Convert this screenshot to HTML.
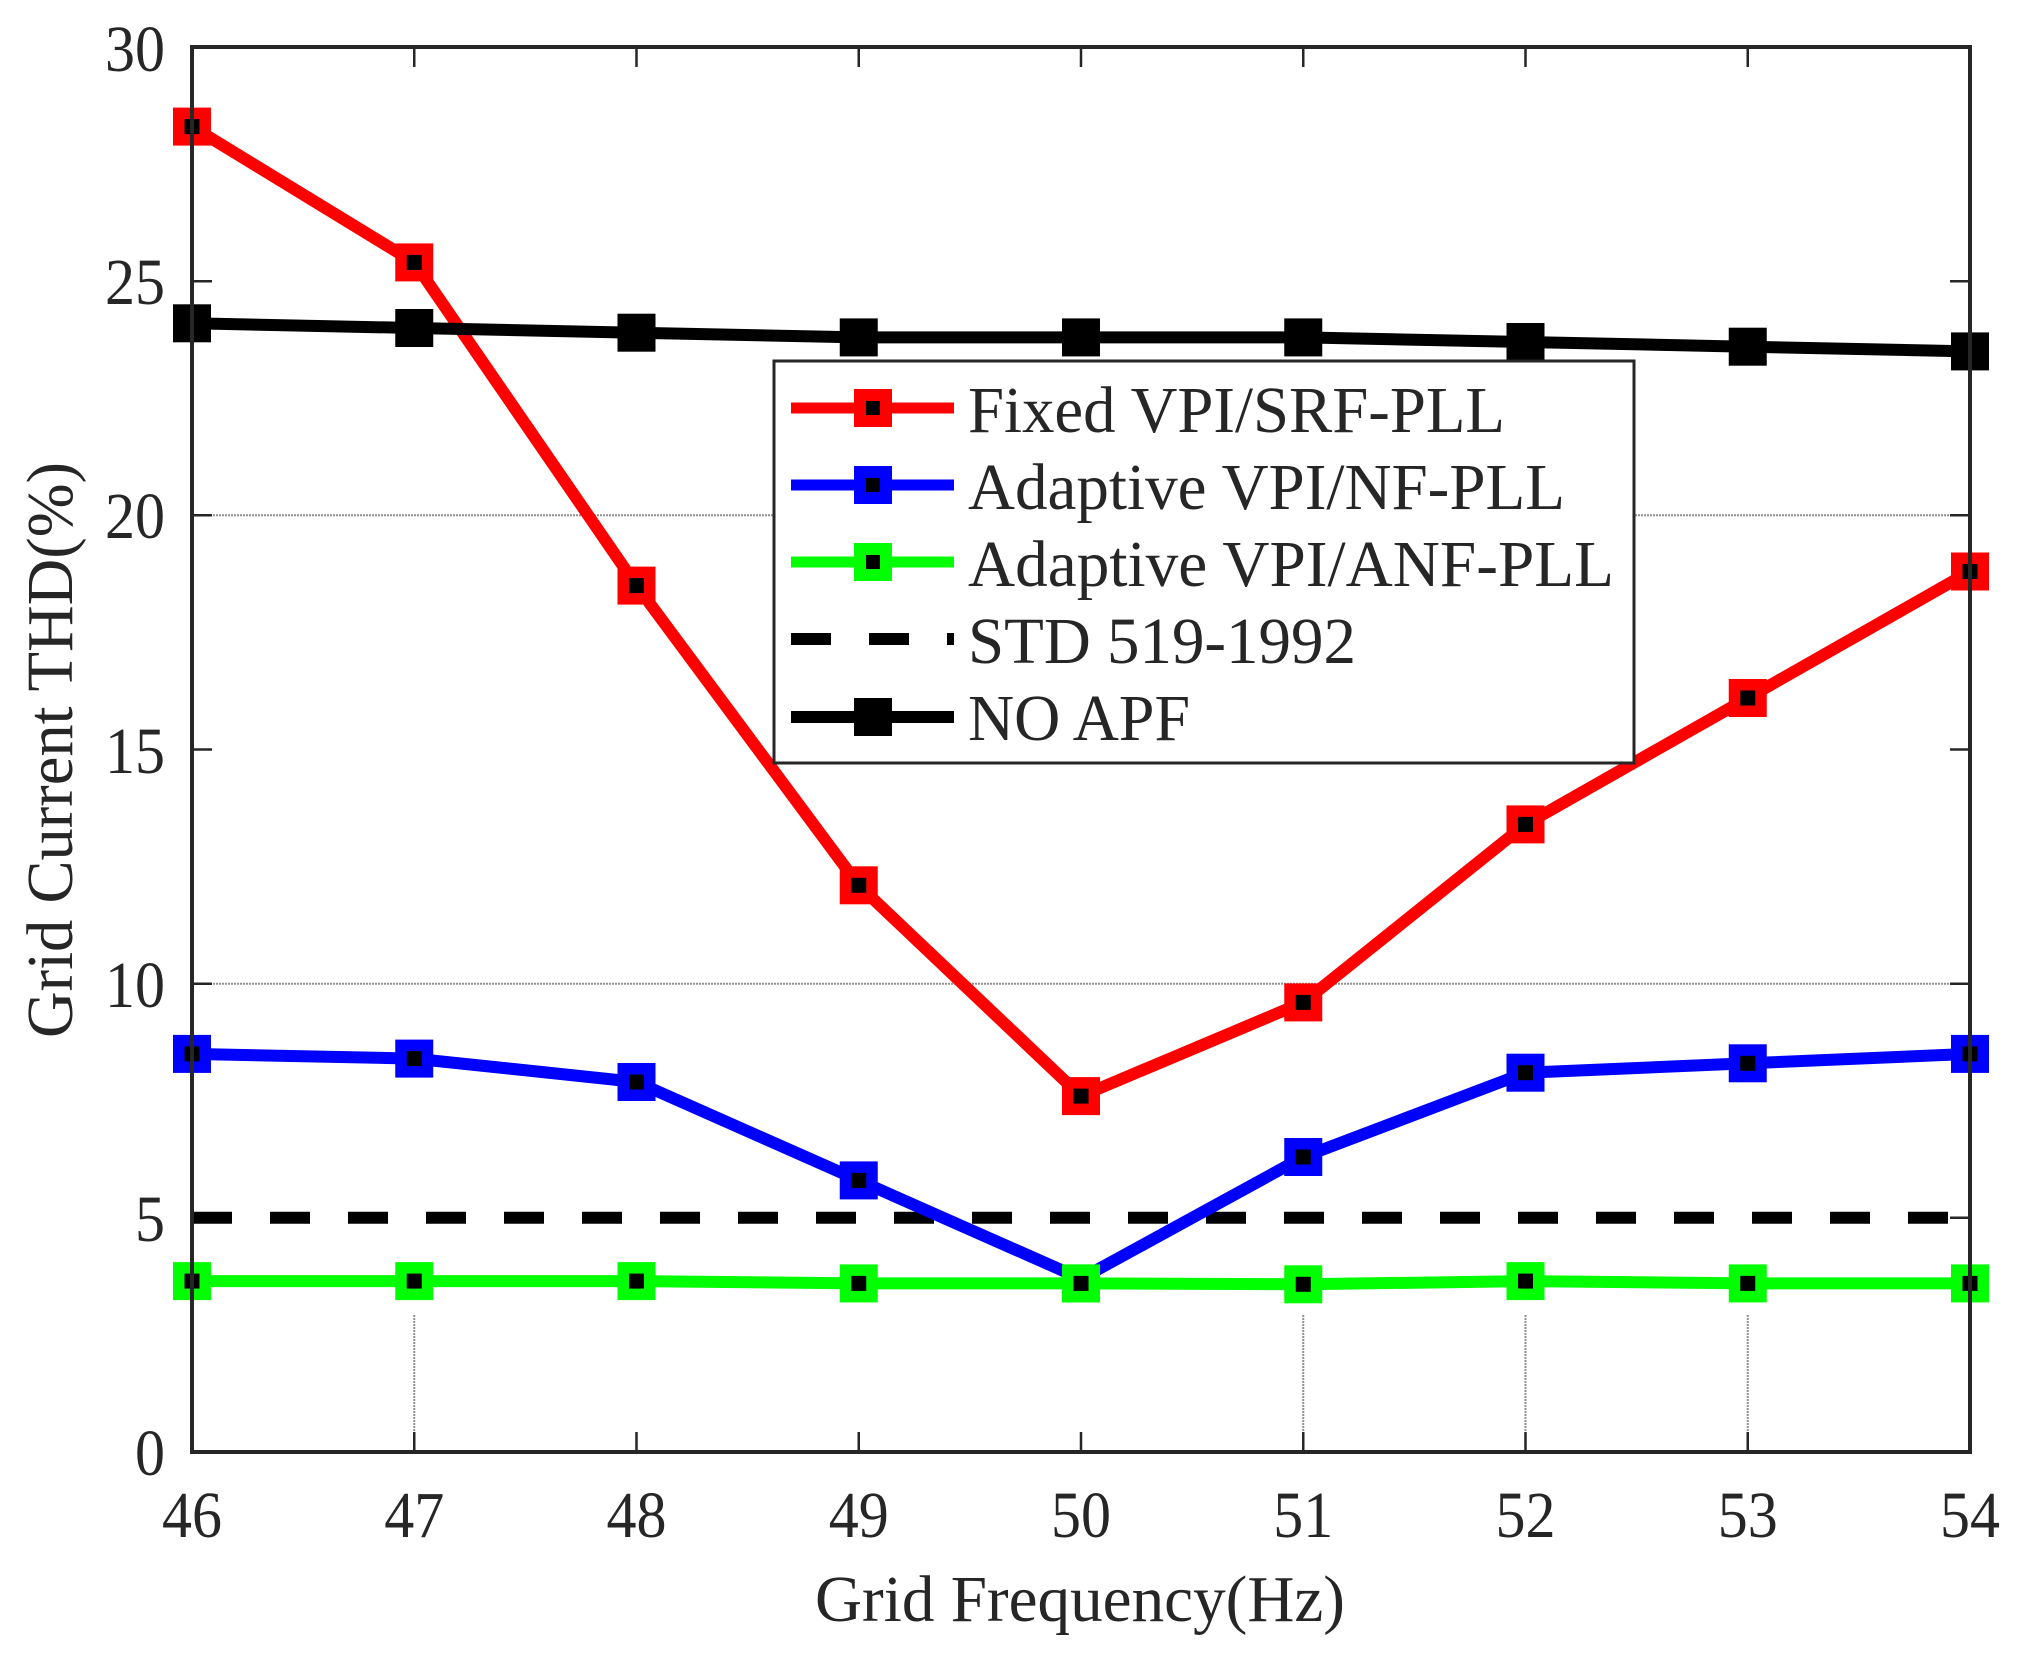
<!DOCTYPE html>
<html><head><meta charset="utf-8"><style>html,body{margin:0;padding:0;background:#fff}svg{display:block}text{font-family:"Liberation Serif",serif;fill:#262626}</style></head>
<body>
<svg width="2028" height="1658" viewBox="0 0 2028 1658" xmlns="http://www.w3.org/2000/svg">
<rect width="2028" height="1658" fill="#fff"/>
<g stroke="#909090" stroke-width="2" stroke-dasharray="2,1">
<line x1="192" y1="515.3" x2="1970" y2="515.3"/>
<line x1="192" y1="983.7" x2="1970" y2="983.7"/>
<line x1="414.25" y1="1315" x2="414.25" y2="1432"/>
<line x1="1303.25" y1="1315" x2="1303.25" y2="1432"/>
<line x1="1525.5" y1="1315" x2="1525.5" y2="1432"/>
<line x1="1747.75" y1="1315" x2="1747.75" y2="1432"/>
</g>
<g stroke="#262626" stroke-width="2.5">
<path d="M192 1217.8h20M192 983.7h20M192 749.5h20M192 515.3h20M192 281.2h20M1970 1217.8h-20M1970 983.7h-20M1970 749.5h-20M1970 515.3h-20M1970 281.2h-20"/>
<path d="M414.25 1452v-20M636.5 1452v-20M858.75 1452v-20M1081 1452v-20M1303.25 1452v-20M1525.5 1452v-20M1747.75 1452v-20M414.25 47v20M636.5 47v20M858.75 47v20M1081 47v20M1303.25 47v20M1525.5 47v20M1747.75 47v20"/>
</g>
<line x1="192" y1="1217.8" x2="1970" y2="1217.8" stroke="#000" stroke-width="12" stroke-dasharray="40,38"/>
<polyline fill="none" stroke="#00ff00" stroke-width="12" points="192,1281.1 414.25,1281.1 636.5,1281.1 858.75,1283.4 1081,1283.4 1303.25,1284.3 1525.5,1281.1 1747.75,1283.4 1970,1283.4"/>
<g fill="#00ff00">
<rect x="173" y="1262.1" width="38" height="38"/><rect x="395.25" y="1262.1" width="38" height="38"/><rect x="617.5" y="1262.1" width="38" height="38"/><rect x="839.75" y="1264.4" width="38" height="38"/><rect x="1062" y="1264.4" width="38" height="38"/><rect x="1284.25" y="1265.3" width="38" height="38"/><rect x="1506.5" y="1262.1" width="38" height="38"/><rect x="1728.75" y="1264.4" width="38" height="38"/><rect x="1951" y="1264.4" width="38" height="38"/>
</g>
<polyline fill="none" stroke="#0000ff" stroke-width="12" points="192,1053.9 414.25,1058.6 636.5,1082 858.75,1180.4 1081,1278.7 1303.25,1157 1525.5,1072.7 1747.75,1063.3 1970,1053.9"/>
<g fill="#0000ff">
<rect x="173" y="1034.9" width="38" height="38"/><rect x="395.25" y="1039.6" width="38" height="38"/><rect x="617.5" y="1063" width="38" height="38"/><rect x="839.75" y="1161.4" width="38" height="38"/><rect x="1284.25" y="1138" width="38" height="38"/><rect x="1506.5" y="1053.7" width="38" height="38"/><rect x="1728.75" y="1044.3" width="38" height="38"/><rect x="1951" y="1034.9" width="38" height="38"/>
</g>
<rect x="1062" y="1264.4" width="38" height="38" fill="#00ff00"/>
<polyline fill="none" stroke="#ff0000" stroke-width="12" points="192,126.6 414.25,262.4 636.5,585.6 858.75,885.3 1081,1096.1 1303.25,1002.4 1525.5,824.4 1747.75,698 1970,571.5"/>
<g fill="#ff0000">
<rect x="173" y="107.6" width="38" height="38"/><rect x="395.25" y="243.4" width="38" height="38"/><rect x="617.5" y="566.6" width="38" height="38"/><rect x="839.75" y="866.3" width="38" height="38"/><rect x="1062" y="1077.1" width="38" height="38"/><rect x="1284.25" y="983.4" width="38" height="38"/><rect x="1506.5" y="805.4" width="38" height="38"/><rect x="1728.75" y="679" width="38" height="38"/><rect x="1951" y="552.5" width="38" height="38"/>
</g>
<g fill="#000">
<rect x="184.5" y="1273.6" width="15" height="15"/><rect x="406.75" y="1273.6" width="15" height="15"/><rect x="629" y="1273.6" width="15" height="15"/><rect x="851.25" y="1275.9" width="15" height="15"/><rect x="1073.5" y="1275.9" width="15" height="15"/><rect x="1295.75" y="1276.8" width="15" height="15"/><rect x="1518" y="1273.6" width="15" height="15"/><rect x="1740.25" y="1275.9" width="15" height="15"/><rect x="1962.5" y="1275.9" width="15" height="15"/>
<rect x="184.5" y="1046.4" width="15" height="15"/><rect x="406.75" y="1051.1" width="15" height="15"/><rect x="629" y="1074.5" width="15" height="15"/><rect x="851.25" y="1172.9" width="15" height="15"/><rect x="1295.75" y="1149.5" width="15" height="15"/><rect x="1518" y="1065.2" width="15" height="15"/><rect x="1740.25" y="1055.8" width="15" height="15"/><rect x="1962.5" y="1046.4" width="15" height="15"/>
<rect x="184.5" y="119.1" width="15" height="15"/><rect x="406.75" y="254.9" width="15" height="15"/><rect x="629" y="578.1" width="15" height="15"/><rect x="851.25" y="877.8" width="15" height="15"/><rect x="1073.5" y="1088.6" width="15" height="15"/><rect x="1295.75" y="994.9" width="15" height="15"/><rect x="1518" y="816.9" width="15" height="15"/><rect x="1740.25" y="690.5" width="15" height="15"/><rect x="1962.5" y="564" width="15" height="15"/>
</g>
<polyline fill="none" stroke="#000" stroke-width="12" points="192,323.3 414.25,328 636.5,332.7 858.75,337.4 1081,337.4 1303.25,337.4 1525.5,342 1747.75,346.7 1970,351.4"/>
<g fill="#000">
<rect x="173" y="304.3" width="38" height="38"/><rect x="395.25" y="309" width="38" height="38"/><rect x="617.5" y="313.7" width="38" height="38"/><rect x="839.75" y="318.4" width="38" height="38"/><rect x="1062" y="318.4" width="38" height="38"/><rect x="1284.25" y="318.4" width="38" height="38"/><rect x="1506.5" y="323" width="38" height="38"/><rect x="1728.75" y="327.7" width="38" height="38"/><rect x="1951" y="332.4" width="38" height="38"/>
</g>
<rect x="192" y="47" width="1778" height="1405" fill="none" stroke="#262626" stroke-width="4"/>
<g font-size="66" text-anchor="end">
<text x="165" y="1475" textLength="30" lengthAdjust="spacingAndGlyphs">0</text>
<text x="165" y="1241" textLength="30" lengthAdjust="spacingAndGlyphs">5</text>
<text x="165" y="1007" textLength="60" lengthAdjust="spacingAndGlyphs">10</text>
<text x="165" y="773" textLength="60" lengthAdjust="spacingAndGlyphs">15</text>
<text x="165" y="538" textLength="60" lengthAdjust="spacingAndGlyphs">20</text>
<text x="165" y="304" textLength="60" lengthAdjust="spacingAndGlyphs">25</text>
<text x="165" y="71" textLength="60" lengthAdjust="spacingAndGlyphs">30</text>
</g>
<g font-size="66">
<text x="162" y="1537" textLength="60" lengthAdjust="spacingAndGlyphs">46</text>
<text x="384.25" y="1537" textLength="60" lengthAdjust="spacingAndGlyphs">47</text>
<text x="606.5" y="1537" textLength="60" lengthAdjust="spacingAndGlyphs">48</text>
<text x="828.75" y="1537" textLength="60" lengthAdjust="spacingAndGlyphs">49</text>
<text x="1051" y="1537" textLength="60" lengthAdjust="spacingAndGlyphs">50</text>
<text x="1273.25" y="1537" textLength="60" lengthAdjust="spacingAndGlyphs">51</text>
<text x="1495.5" y="1537" textLength="60" lengthAdjust="spacingAndGlyphs">52</text>
<text x="1717.75" y="1537" textLength="60" lengthAdjust="spacingAndGlyphs">53</text>
<text x="1940" y="1537" textLength="60" lengthAdjust="spacingAndGlyphs">54</text>
</g>
<text x="815" y="1621" font-size="66" textLength="530" lengthAdjust="spacingAndGlyphs">Grid Frequency(Hz)</text>
<text transform="translate(72,1038) rotate(-90)" font-size="66" textLength="576" lengthAdjust="spacingAndGlyphs">Grid Current THD(%)</text>
<rect x="774" y="361" width="860" height="402" fill="#fff" stroke="#262626" stroke-width="3"/>
<line x1="791" y1="408" x2="954" y2="408" stroke="#ff0000" stroke-width="11"/>
<rect x="854" y="389" width="38" height="38" fill="#ff0000"/><rect x="866" y="401" width="14" height="14" fill="#000"/>
<line x1="791" y1="485" x2="954" y2="485" stroke="#0000ff" stroke-width="11"/>
<rect x="854" y="466" width="38" height="38" fill="#0000ff"/><rect x="866" y="478" width="14" height="14" fill="#000"/>
<line x1="791" y1="562" x2="954" y2="562" stroke="#00ff00" stroke-width="11"/>
<rect x="854" y="543" width="38" height="38" fill="#00ff00"/><rect x="866" y="555" width="14" height="14" fill="#000"/>
<line x1="791" y1="639" x2="954" y2="639" stroke="#000" stroke-width="12" stroke-dasharray="40,38"/>
<line x1="791" y1="717" x2="954" y2="717" stroke="#000" stroke-width="12"/>
<rect x="854" y="698" width="38" height="38" fill="#000"/>
<g font-size="66">
<text x="968" y="432" textLength="537" lengthAdjust="spacingAndGlyphs">Fixed VPI/SRF-PLL</text>
<text x="968" y="509" textLength="597" lengthAdjust="spacingAndGlyphs">Adaptive VPI/NF-PLL</text>
<text x="968" y="586" textLength="646" lengthAdjust="spacingAndGlyphs">Adaptive VPI/ANF-PLL</text>
<text x="968" y="663" textLength="388" lengthAdjust="spacingAndGlyphs">STD 519-1992</text>
<text x="968" y="740" textLength="222" lengthAdjust="spacingAndGlyphs">NO APF</text>
</g>
</svg>
</body></html>
